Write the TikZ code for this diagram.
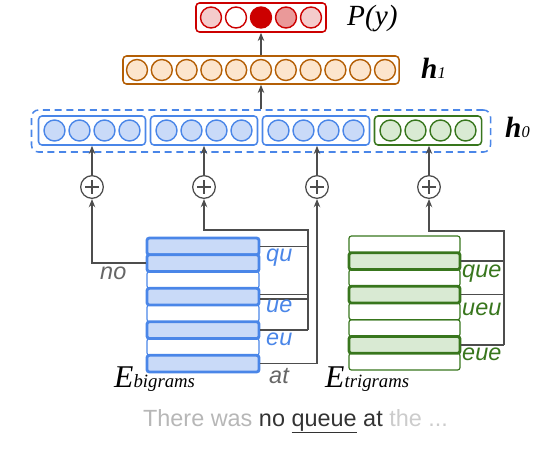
\documentclass[tikz,border=0pt]{standalone}
\usepackage{fontspec}
\setmainfont{Liberation Serif}
\setsansfont{Liberation Sans}
\usepackage{xcolor}
\usetikzlibrary{arrows.meta,calc,positioning}

\definecolor{gblue}{HTML}{4A86E8}
\definecolor{gbluefill}{HTML}{C9DAF8}
\definecolor{ggreen}{HTML}{38761D}
\definecolor{ggreenfill}{HTML}{D9EAD3}
\definecolor{gorange}{HTML}{B45F06}
\definecolor{gorangefill}{HTML}{FCE5CD}
\definecolor{gred}{HTML}{CC0000}
\definecolor{gredlight}{HTML}{F4CCCC}
\definecolor{gredmid}{HTML}{EA9999}
\definecolor{ggray}{HTML}{4D4D4D}
\definecolor{gtext}{HTML}{666666}
\definecolor{lgray}{HTML}{B7B7B7}
\definecolor{llgray}{HTML}{CCCCCC}
\definecolor{dgray}{HTML}{333333}

\tikzset{
  unit/.style={circle, draw, line width=1.2pt, minimum size=0.63cm, inner sep=0pt},
  layer/.style={rectangle, rounded corners=3pt, draw, line width=1.3pt, inner sep=0pt},
  embrow/.style={rectangle, rounded corners=2pt, draw, inner sep=0pt, minimum height=0.5cm},
  plusnode/.style={circle, draw=ggray, line width=1.1pt, minimum size=0.68cm, inner sep=0pt,
    path picture={\draw[ggray, line width=1.1pt]
      ([xshift=-0.2cm]path picture bounding box.center) -- ([xshift=0.2cm]path picture bounding box.center)
      ([yshift=-0.2cm]path picture bounding box.center) -- ([yshift=0.2cm]path picture bounding box.center);}},
  arr/.style={draw=ggray, line width=1.2pt, -{Stealth[length=7pt,width=5.5pt]}},
  link/.style={draw=ggray, line width=1.2pt},
  gram/.style={font=\sffamily\itshape\fontsize{20}{20}\selectfont, inner sep=0pt, anchor=base west},
  elabel/.style={font=\itshape\fontsize{27}{27}\selectfont, inner sep=0pt, anchor=base west},
  hlabel/.style={font=\fontsize{25}{25}\selectfont, inner sep=0pt, anchor=base west}
}

\begin{document}
\begin{tikzpicture}[x=0.03cm, y=-0.03cm]
  \useasboundingbox (0,0) rectangle (540,466);

  \node[layer, draw=gred, minimum width=3.9cm, minimum height=0.87cm] (py) at (261,17.5) {};
  \foreach \k/\c in {1/gredlight,2/white,3/gred,4/gredmid,5/gredlight}
    \node[unit, draw=gred, fill=\c] (py\k) at ($(py)+({(\k-3)*25},0)$) {};
  \node[font=\itshape\fontsize{25}{25}\selectfont, inner sep=0pt, anchor=base west] (pylab) at (347,25) {P(y)};

  \node[layer, draw=gorange, minimum width=8.28cm, minimum height=0.84cm] (h1) at (261,70) {};
  \foreach \k in {1,...,11}
    \node[unit, draw=gorange, fill=gorangefill] (h1u\k) at ($(h1)+({(\k-6)*24.8},0)$) {};
  \node[hlabel] (h1lab) at (421,78) {\textbf{\textit{h}}{\itshape\fontsize{14}{14}\selectfont 1}};

  \node[layer, draw=gblue, dash pattern=on 6pt off 4pt, rounded corners=6pt,
        minimum width=13.77cm, minimum height=1.26cm] (h0) at (261,131) {};
  \foreach \g/\x/\c/\f in {1/92/gblue/gbluefill,2/204/gblue/gbluefill,3/316/gblue/gbluefill,4/428/ggreen/ggreenfill} {
    \node[layer, draw=\c, minimum width=3.21cm, minimum height=0.87cm] (g\g) at (\x,130.5) {};
    \foreach \k in {1,...,4}
      \node[unit, draw=\c, fill=\f] (g\g u\k) at ($(g\g)+({(\k-2.5)*25},0)$) {};
  }
  \node[hlabel] (h0lab) at (505,137) {\textbf{\textit{h}}{\itshape\fontsize{14}{14}\selectfont 0}};

  \draw[arr] (h0.north) -- (h1.south);
  \draw[arr] (h1.north) -- (py.south);

  \foreach \g/\x in {1/92,2/204,3/317,4/429} {
    \node[plusnode] (s\g) at (\x,187) {};
    \draw[arr] (s\g.north) -- (s\g.north |- g\g.south);
  }

  \foreach \r in {1,...,8}
    \node[embrow, draw=gblue, line width=1pt, minimum width=3.36cm] (b\r) at (203,{238+(\r-0.5)*16.75}) {};
  \foreach \r in {1,2,4,6,8}
    \node[embrow, draw=gblue, fill=gbluefill, line width=2.4pt, minimum width=3.36cm] (bh\r) at (b\r) {};

  \foreach \r in {1,...,8}
    \node[embrow, draw=ggreen, line width=1pt, minimum width=3.33cm] (t\r) at (404.5,{236+(\r-0.5)*16.75}) {};
  \foreach \r in {2,4,7}
    \node[embrow, draw=ggreen, fill=ggreenfill, line width=2.4pt, minimum width=3.33cm] (th\r) at (t\r) {};

  \coordinate (bq) at (308,230);
  \coordinate (tq) at (504,231);

  \draw[arr] (b2.west) -| (s1.south);
  \draw[link] (b1.east) -- (b1.east -| bq);
  \draw[link] ([yshift=2pt]b4.east) -- ([yshift=2pt]b4.east -| bq);
  \draw[link] ([yshift=-2pt]b4.east) -- ([yshift=-2pt]b4.east -| bq);
  \draw[link] (b6.east) -- (b6.east -| bq);
  \draw[arr] (bq |- b6.east) -- (bq) -| (s2.south);
  \draw[arr] (b8.east) -| (s3.south);

  \draw[link] (t2.east) -- (t2.east -| tq);
  \draw[link] (t4.east) -- (t4.east -| tq);
  \draw[link] (t7.east) -- (t7.east -| tq);
  \draw[arr] (tq |- t7.east) -- (tq) -| (s4.south);

  \node[gram, text=gtext] (lno) at (100,279) {no};
  \node[gram, text=gblue] (lqu) at (266,261) {qu};
  \node[gram, text=gblue] (lue) at (266,312) {ue};
  \node[gram, text=gblue] (leu) at (266,345) {eu};
  \node[gram, text=gtext] (lat) at (269,383) {at};
  \node[gram, text=ggreen] (lque) at (462,277) {que};
  \node[gram, text=ggreen] (lueu) at (462,315) {ueu};
  \node[gram, text=ggreen] (leue) at (462,360) {eue};

  \node[elabel] (ebig) at (114,387) {E{\fontsize{16}{16}\selectfont bigrams}};
  \node[elabel] (etri) at (325,387) {E{\fontsize{16}{16}\selectfont trigrams}};

  \node[font=\sffamily\fontsize{20}{20}\selectfont, inner sep=0pt, anchor=base] (sent) at (295.5,426)
    {\textcolor{lgray}{There was} \textcolor{dgray}{no \underline{queue} at} \textcolor{llgray}{the ...}};
\end{tikzpicture}
\end{document}
